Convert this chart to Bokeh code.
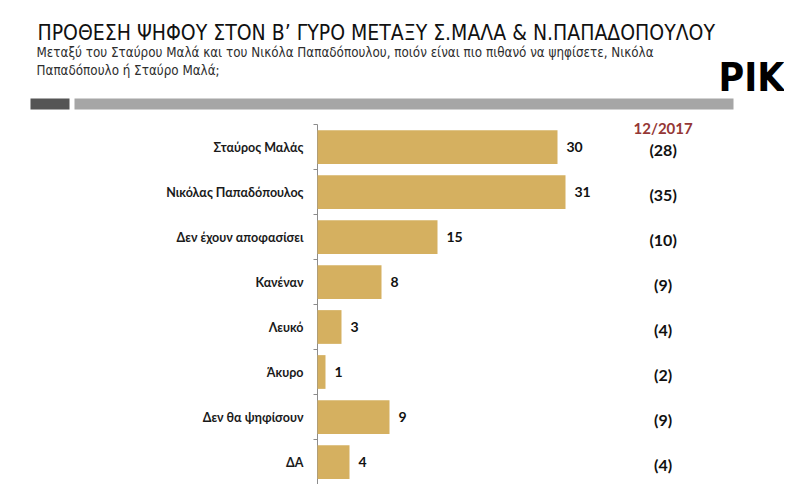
import math
from bokeh.plotting import figure
from bokeh.models import ColumnDataSource, Range1d
from bokeh.core.properties import value
from bokeh.embed import file_html
from bokeh.resources import INLINE

categories = ["Σταύρος Μαλάς", "Νικόλας Παπαδόπουλος", "Δεν έχουν αποφασίσει",
              "Κανέναν", "Λευκό", "Άκυρο", "Δεν θα ψηφίσουν", "ΔΑ"]
values = [30, 31, 15, 8, 3, 1, 9, 4]
previous = [28, 35, 10, 9, 4, 2, 9, 4]
previous_label = "12/2017"

title = "ΠΡΟΘΕΣΗ ΨΗΦΟΥ ΣΤΟΝ Β’ ΓΥΡΟ ΜΕΤΑΞΥ Σ.ΜΑΛΑ & Ν.ΠΑΠΑΔΟΠΟΥΛΟΥ"
subtitle1 = "Μεταξύ του Σταύρου Μαλά και του Νικόλα Παπαδόπουλου, ποιόν είναι πιο πιθανό να ψηφίσετε, Νικόλα"
subtitle2 = "Παπαδόπουλο ή Σταύρο Μαλά;"
brand = "PIK"

NARROW = "'Liberation Sans Narrow', 'DejaVu Sans Condensed', sans-serif"
BODY = "Lato"
W, H = 784, 484

# layout of the chart area (pixels)
AXIS_X = 317
PX_PER_UNIT = 8.0
BAND_TOP = 124
n = len(categories)
BAND_PX = (H - BAND_TOP) / n
PREV_COL_X = 43.2  # column of previous-wave values, in value units

p = figure(width=W, height=H, output_backend="svg", toolbar_location=None,
           x_range=Range1d(-AXIS_X / PX_PER_UNIT, (W - AXIS_X) / PX_PER_UNIT),
           y_range=Range1d(n - 0.5, -0.5 - BAND_TOP / BAND_PX),
           x_axis_location=None, y_axis_location=None, min_border=0)
p.extra_x_ranges = {"px": Range1d(0, W)}
p.extra_y_ranges = {"px": Range1d(H, 0)}
p.grid.visible = False
p.outline_line_color = None

# ---------------- header ----------------
hp = dict(x_range_name="px", y_range_name="px")
p.text(x=[37], y=[32], text=[title], text_font=value(NARROW), text_font_size="21px",
       text_color="#111111", text_baseline="alphabetic", **hp)
p.text(x=[36], y=[52], text=[subtitle1], text_font=value(NARROW), text_font_size="13.3px",
       text_color="#2e2e2e", text_baseline="alphabetic", **hp)
p.text(x=[36], y=[70], text=[subtitle2], text_font=value(NARROW), text_font_size="13.3px",
       text_color="#2e2e2e", text_baseline="alphabetic", **hp)
p.text(x=[784], y=[77], text=[brand], text_font=value(NARROW), text_font_style="bold",
       text_font_size="39px", text_color="#000000", text_baseline="alphabetic",
       text_align="right", **hp)
p.quad(left=[30], right=[69], top=[98], bottom=[109], fill_color="#555555", line_color=None, **hp)
p.quad(left=[74], right=[733], top=[98], bottom=[109], fill_color="#a6a6a6", line_color=None, **hp)

# ---------------- chart ----------------
ys = list(range(n))
src = ColumnDataSource(dict(
    y=ys, cat=categories, v=values, vl=[str(v) for v in values],
    pl=["(%d)" % v for v in previous],
))
bounds = [i - 0.5 for i in range(n + 1)]

# axis line, boundary ticks and category labels
p.segment(x0=[0], y0=[-0.5], x1=[0], y1=[n - 0.5], line_color="#8c8c8c", line_width=1)
p.ray(x=[0] * len(bounds), y=bounds, length=4, length_units="screen", angle=math.pi,
      line_color="#8c8c8c", line_width=1)
p.text(x=0, y="y", text="cat", source=src, x_offset=-14,
       text_font=value(BODY), text_font_style="bold", text_font_size="12.5px",
       text_baseline="middle", text_align="right", text_color="#1a1a1a")

p.hbar(y="y", right="v", left=0, height=0.75, source=src,
       fill_color="#D5B060", line_color=None)

p.text(x="v", y="y", text="vl", source=src, x_offset=9,
       text_font=value(BODY), text_font_style="bold", text_font_size="14px",
       text_baseline="middle", text_align="left", text_color="#111111")

p.text(x=PREV_COL_X, y="y", text="pl", source=src, y_offset=2,
       text_font=value(BODY), text_font_style="bold", text_font_size="16px",
       text_baseline="middle", text_align="center", text_color="#111111")

p.text(x=[PREV_COL_X], y=[-0.5], text=[previous_label], y_offset=3,
       text_font=value(BODY), text_font_style="bold", text_font_size="15px",
       text_baseline="alphabetic", text_align="center", text_color="#953735")

open("out.html", "w").write(file_html(p, INLINE))
